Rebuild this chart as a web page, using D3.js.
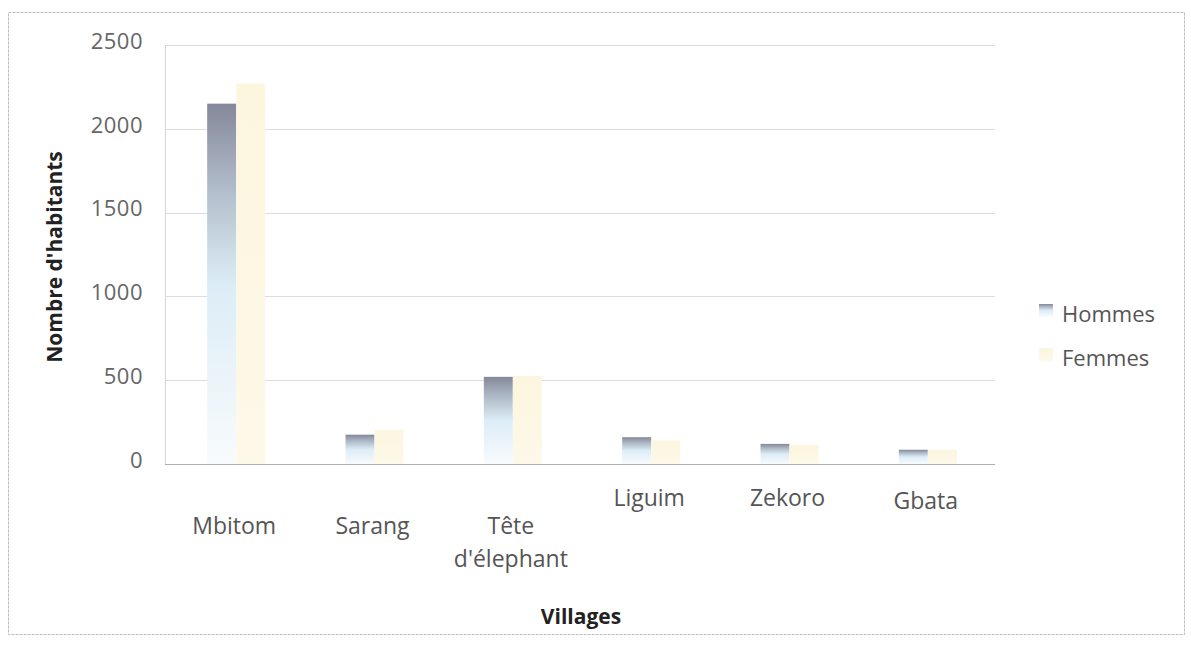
<!DOCTYPE html>
<html>
<head>
<meta charset="utf-8">
<script src="https://cdn.jsdelivr.net/npm/d3@7"></script>
<style>
  body { margin: 0; background: #fff; }
  text { font-family: "Open Sans", "DejaVu Sans", sans-serif; }
</style>
</head>
<body>
<svg width="1191" height="645"></svg>
<script>
var villages = ["Mbitom", "Sarang", "Tête d'élephant", "Liguim", "Zekoro", "Gbata"];
var hommes = [2150, 175, 520, 160, 120, 85];
var femmes = [2270, 205, 525, 140, 115, 85];
var series = ["Hommes", "Femmes"];
var yTicks = [0, 500, 1000, 1500, 2000, 2500];

var svg = d3.select("svg"),
    width = +svg.attr("width"),
    height = +svg.attr("height");

var margin = {top: 45, left: 165, right: 196, bottom: 181};

// outer frame
svg.append("rect")
    .attr("x", 8.5).attr("y", 12.5)
    .attr("width", 1176).attr("height", 622)
    .attr("fill", "none")
    .attr("stroke", "#bdbdbd")
    .attr("stroke-dasharray", "3,1");

var x = d3.scaleBand()
    .domain(villages)
    .range([margin.left, width - margin.right]);

var xs = d3.scaleBand()
    .domain(series)
    .range([0, 58]);

var y = d3.scaleLinear()
    .domain([0, 2500])
    .range([height - margin.bottom, margin.top]);

// gradients
var defs = svg.append("defs");
var gh = defs.append("linearGradient").attr("id", "gh")
    .attr("x1", 0).attr("y1", 0).attr("x2", 0).attr("y2", 1);
gh.append("stop").attr("offset", "0%").attr("stop-color", "#85889a");
gh.append("stop").attr("offset", "25%").attr("stop-color", "#b3bfcc");
gh.append("stop").attr("offset", "50%").attr("stop-color", "#dcecf6");
gh.append("stop").attr("offset", "100%").attr("stop-color", "#f8fbfd");
var gf = defs.append("linearGradient").attr("id", "gf")
    .attr("x1", 0).attr("y1", 0).attr("x2", 0).attr("y2", 1);
gf.append("stop").attr("offset", "0%").attr("stop-color", "#fcf6df");
gf.append("stop").attr("offset", "100%").attr("stop-color", "#fdf8e8");

// gridlines
svg.append("g")
    .selectAll("line")
    .data(yTicks)
    .enter().append("line")
        .attr("x1", margin.left)
        .attr("x2", width - margin.right)
        .attr("y1", function(d) { return Math.round(y(d)) + 0.5; })
        .attr("y2", function(d) { return Math.round(y(d)) + 0.5; })
        .attr("stroke", function(d) { return d === 0 ? "#b0b0b0" : "#dcdcdc"; });

// y axis line
svg.append("line")
    .attr("x1", margin.left + 0.5).attr("x2", margin.left + 0.5)
    .attr("y1", y(2500)).attr("y2", y(0))
    .attr("stroke", "#d4d4d4");

// y tick labels
svg.append("g")
    .selectAll("text")
    .data(yTicks)
    .enter().append("text")
        .attr("x", 143)
        .attr("y", function(d) { return y(d) - 2; })
        .attr("text-anchor", "end")
        .attr("dominant-baseline", "middle")
        .attr("fill", "#666")
        .style("font-size", "22px")
        .style("letter-spacing", "0.5px")
        .text(function(d) { return d; });

// bars
var data = villages.map(function(v, i) {
    return {village: v, values: [{s: "Hommes", v: hommes[i]}, {s: "Femmes", v: femmes[i]}]};
});

var groups = svg.append("g")
    .selectAll("g")
    .data(data)
    .enter().append("g")
        .attr("transform", function(d) {
            return "translate(" + (x(d.village) + x.bandwidth() / 2 - 27) + ",0)";
        });

groups.selectAll("rect")
    .data(function(d) { return d.values; })
    .enter().append("rect")
        .attr("x", function(d) { return xs(d.s); })
        .attr("width", xs.bandwidth())
        .attr("y", function(d) { return y(d.v); })
        .attr("height", function(d) { return y(0) - y(d.v); })
        .attr("fill", function(d) { return d.s === "Hommes" ? "url(#gh)" : "url(#gf)"; });

// x labels (staggered like the original)
var labelLines = {
    "Mbitom": [["Mbitom", 534]],
    "Sarang": [["Sarang", 534]],
    "Tête d'élephant": [["Tête", 534], ["d'élephant", 567]],
    "Liguim": [["Liguim", 506]],
    "Zekoro": [["Zekoro", 506]],
    "Gbata": [["Gbata", 509]]
};
villages.forEach(function(v) {
    labelLines[v].forEach(function(l) {
        svg.append("text")
            .attr("x", x(v) + x.bandwidth() / 2)
            .attr("y", l[1])
            .attr("text-anchor", "middle")
            .attr("fill", "#555")
            .style("font-size", "23px")
            .text(l[0]);
    });
});

// axis titles
svg.append("text")
    .attr("transform", "translate(62," + 257 + ") rotate(-90)")
    .attr("text-anchor", "middle")
    .attr("font-weight", "bold")
    .attr("fill", "#222")
    .style("font-size", "21px")
    .text("Nombre d'habitants");

svg.append("text")
    .attr("x", 581).attr("y", 624)
    .attr("text-anchor", "middle")
    .attr("font-weight", "bold")
    .attr("fill", "#222")
    .style("font-size", "21px")
    .text("Villages");

// legend
var legend = svg.append("g")
    .selectAll("g")
    .data(series)
    .enter().append("g")
        .attr("transform", function(d, i) { return "translate(1039," + (322 + i * 44) + ")"; });

legend.append("rect")
    .attr("x", 0).attr("y", -18)
    .attr("width", 14).attr("height", 13)
    .attr("fill", function(d) { return d === "Hommes" ? "url(#gh)" : "url(#gf)"; });

legend.append("text")
    .attr("x", 23)
    .attr("y", 0)
    .attr("fill", "#555")
    .style("font-size", "22px")
    .text(function(d) { return d; });
</script>
</body>
</html>
